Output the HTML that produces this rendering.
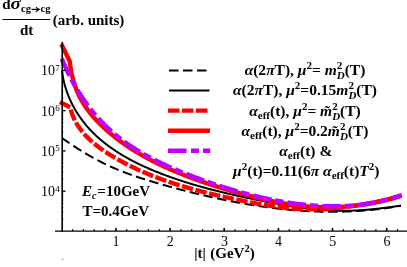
<!DOCTYPE html>
<html><head><meta charset="utf-8"><style>
html,body{margin:0;padding:0;background:#fff;}
svg{display:block;will-change:transform}
text{font-family:"Liberation Serif",serif;fill:#000}
.b{font-weight:bold}
.i{font-style:italic}
.tk{font-size:14px}
.lg{font-weight:bold;font-size:15.5px}
.s{font-size:11px}
</style></head><body>
<svg width="407" height="267" viewBox="0 0 407 267">
<rect width="407" height="267" fill="#fff"/>
<!-- curves -->
<g fill="none" stroke-linejoin="round">
<path d="M62.40,138.35 L62.88,138.69 L63.36,139.02 L63.84,139.35 L64.33,139.69 L64.81,140.02 L65.29,140.35 L65.78,140.68 L66.26,141.01 L66.75,141.34 L67.24,141.67 L67.72,142.00 L68.21,142.33 L68.70,142.66 L69.19,142.99 L69.68,143.32 L70.17,143.64 L70.66,143.97 L71.15,144.29 L71.64,144.62 L72.13,144.94 L72.62,145.27 L73.11,145.59 L73.61,145.91 L74.10,146.23 L74.60,146.56 L75.09,146.88 L75.59,147.20 L76.08,147.51 L76.58,147.83 L77.08,148.15 L77.58,148.47 L78.08,148.78 L78.57,149.10 L79.07,149.41 L79.57,149.73 L80.08,150.04 L80.58,150.35 L81.08,150.66 L81.58,150.97 L82.08,151.28 L82.59,151.59 L83.09,151.90 L83.60,152.20 L84.10,152.51 L84.61,152.81 L85.12,153.12 L85.62,153.42 L86.13,153.72 L86.64,154.02 L87.15,154.32 L87.66,154.62 L88.17,154.92 L88.68,155.22 L89.19,155.51 L89.70,155.81 L90.21,156.10 L90.72,156.39 L91.24,156.69 L91.75,156.98 L92.27,157.26 L92.78,157.55 L93.30,157.84 L93.81,158.13 L94.33,158.41 L94.85,158.69 L95.36,158.98 L95.88,159.26 L96.40,159.54 L96.92,159.81 L97.44,160.09 L97.96,160.37 L98.48,160.64 L99.00,160.91 L99.53,161.19 L100.05,161.46 L100.57,161.73 L101.10,161.99 L101.62,162.26 L102.15,162.53 L102.67,162.79 L103.20,163.05 L103.73,163.31 L104.25,163.57 L104.78,163.83 L105.31,164.09 L105.84,164.34 L106.37,164.60 L106.90,164.85 L107.43,165.10 L107.96,165.35 L108.49,165.59 L109.03,165.84 L109.56,166.09 L110.09,166.33 L110.63,166.57 L111.16,166.81 L111.70,167.05 L112.23,167.29 L112.77,167.53 L113.31,167.76 L113.84,168.00 L114.38,168.23 L114.92,168.46 L115.46,168.69 L116.00,168.92 L116.54,169.15 L117.08,169.37 L117.62,169.60 L118.16,169.82 L118.70,170.04 L119.24,170.26 L119.79,170.48 L120.33,170.70 L120.87,170.92 L121.42,171.14 L121.96,171.35 L122.51,171.57 L123.05,171.78 L123.60,171.99 L124.14,172.20 L124.69,172.41 L125.24,172.62 L125.78,172.83 L126.33,173.04 L126.88,173.24 L127.43,173.45 L127.98,173.65 L128.53,173.85 L129.08,174.05 L129.63,174.25 L130.18,174.45 L130.73,174.65 L131.28,174.85 L131.83,175.04 L132.39,175.24 L132.94,175.43 L133.49,175.63 L134.04,175.82 L134.60,176.01 L135.15,176.20 L135.71,176.39 L136.26,176.58 L136.82,176.77 L137.37,176.96 L137.93,177.14 L138.48,177.33 L139.04,177.52 L139.60,177.70 L140.15,177.88 L140.71,178.07 L141.27,178.25 L141.83,178.43 L142.38,178.61 L142.94,178.79 L143.50,178.97 L144.06,179.14 L144.62,179.32 L145.18,179.50 L145.74,179.67 L146.30,179.85 L146.86,180.02 L147.42,180.20 L147.98,180.37 L148.54,180.54 L149.10,180.72 L149.66,180.89 L150.23,181.06 L150.79,181.23 L151.35,181.40 L151.91,181.57 L152.48,181.74 L153.04,181.90 L153.60,182.07 L154.17,182.24 L154.73,182.40 L155.29,182.57 L155.86,182.74 L156.42,182.90 L156.99,183.07 L157.55,183.23 L158.12,183.39 L158.68,183.56 L159.25,183.72 L159.81,183.88 L160.38,184.04 L160.94,184.20 L161.51,184.37 L162.07,184.53 L162.64,184.69 L163.21,184.85 L163.77,185.01 L164.34,185.17 L164.91,185.33 L165.47,185.48 L166.04,185.64 L166.61,185.80 L167.17,185.96 L167.74,186.12 L168.31,186.27 L168.87,186.43 L169.44,186.59 L170.01,186.74 L170.58,186.90 L171.15,187.06 L171.71,187.21 L172.28,187.37 L172.85,187.52 L173.42,187.68 L173.99,187.83 L174.56,187.98 L175.13,188.14 L175.69,188.29 L176.26,188.44 L176.83,188.60 L177.40,188.75 L177.97,188.90 L178.54,189.05 L179.11,189.20 L179.68,189.36 L180.25,189.51 L180.82,189.66 L181.39,189.81 L181.96,189.96 L182.53,190.10 L183.10,190.25 L183.67,190.40 L184.24,190.55 L184.81,190.70 L185.39,190.84 L185.96,190.99 L186.53,191.14 L187.10,191.28 L187.67,191.43 L188.24,191.58 L188.81,191.72 L189.38,191.87 L189.96,192.01 L190.53,192.16 L191.10,192.30 L191.67,192.44 L192.25,192.59 L192.82,192.73 L193.39,192.87 L193.96,193.01 L194.54,193.15 L195.11,193.29 L195.68,193.43 L196.25,193.58 L196.83,193.72 L197.40,193.85 L197.97,193.99 L198.55,194.13 L199.12,194.27 L199.69,194.41 L200.27,194.55 L200.84,194.68 L201.42,194.82 L201.99,194.96 L202.56,195.09 L203.14,195.23 L203.71,195.36 L204.29,195.50 L204.86,195.63 L205.44,195.76 L206.01,195.90 L206.59,196.03 L207.16,196.16 L207.74,196.30 L208.31,196.43 L208.89,196.56 L209.46,196.69 L210.04,196.82 L210.61,196.95 L211.19,197.08 L211.76,197.21 L212.34,197.34 L212.92,197.46 L213.49,197.59 L214.07,197.72 L214.64,197.85 L215.22,197.97 L215.80,198.10 L216.37,198.22 L216.95,198.35 L217.53,198.47 L218.10,198.60 L218.68,198.72 L219.26,198.84 L219.83,198.97 L220.41,199.09 L220.99,199.21 L221.56,199.33 L222.14,199.45 L222.72,199.57 L223.30,199.69 L223.87,199.81 L224.45,199.93 L225.03,200.05 L225.61,200.17 L226.19,200.29 L226.76,200.40 L227.34,200.52 L227.92,200.63 L228.50,200.75 L229.08,200.87 L229.65,200.98 L230.23,201.09 L230.81,201.21 L231.39,201.32 L231.97,201.43 L232.55,201.54 L233.13,201.66 L233.71,201.77 L234.29,201.88 L234.86,201.99 L235.44,202.10 L236.02,202.21 L236.60,202.31 L237.18,202.42 L237.76,202.53 L238.34,202.64 L238.92,202.74 L239.50,202.85 L240.08,202.95 L240.66,203.06 L241.24,203.16 L241.82,203.27 L242.40,203.37 L242.98,203.47 L243.56,203.58 L244.14,203.68 L244.72,203.78 L245.30,203.88 L245.88,203.98 L246.46,204.08 L247.04,204.18 L247.62,204.27 L248.21,204.37 L248.79,204.47 L249.37,204.57 L249.95,204.66 L250.53,204.76 L251.11,204.85 L251.69,204.95 L252.27,205.04 L252.86,205.13 L253.44,205.23 L254.02,205.32 L254.60,205.41 L255.18,205.50 L255.76,205.59 L256.34,205.68 L256.93,205.77 L257.51,205.86 L258.09,205.95 L258.67,206.04 L259.25,206.12 L259.84,206.21 L260.42,206.29 L261.00,206.38 L261.58,206.46 L262.17,206.55 L262.75,206.63 L263.33,206.71 L263.91,206.80 L264.50,206.88 L265.08,206.96 L265.66,207.04 L266.24,207.12 L266.83,207.20 L267.41,207.28 L267.99,207.36 L268.58,207.43 L269.16,207.51 L269.74,207.59 L270.33,207.66 L270.91,207.74 L271.49,207.81 L272.08,207.88 L272.66,207.96 L273.24,208.03 L273.83,208.10 L274.41,208.17 L274.99,208.24 L275.58,208.31 L276.16,208.38 L276.74,208.45 L277.33,208.52 L277.91,208.59 L278.50,208.65 L279.08,208.72 L279.66,208.78 L280.25,208.85 L280.83,208.91 L281.42,208.98 L282.00,209.04 L282.58,209.10 L283.17,209.16 L283.75,209.22 L284.34,209.28 L284.92,209.34 L285.51,209.40 L286.09,209.46 L286.68,209.52 L287.26,209.57 L287.84,209.63 L288.43,209.68 L289.01,209.74 L289.60,209.79 L290.18,209.85 L290.77,209.90 L291.35,209.95 L291.94,210.00 L292.52,210.05 L293.11,210.10 L293.69,210.15 L294.28,210.20 L294.86,210.25 L295.45,210.30 L296.03,210.34 L296.62,210.39 L297.20,210.43 L297.79,210.48 L298.38,210.52 L298.96,210.56 L299.55,210.61 L300.13,210.65 L300.72,210.69 L301.30,210.73 L301.89,210.77 L302.47,210.81 L303.06,210.85 L303.64,210.88 L304.23,210.92 L304.82,210.95 L305.40,210.99 L305.99,211.02 L306.57,211.06 L307.16,211.09 L307.74,211.12 L308.33,211.15 L308.92,211.19 L309.50,211.22 L310.09,211.24 L310.67,211.27 L311.26,211.30 L311.85,211.33 L312.43,211.35 L313.02,211.38 L313.60,211.40 L314.19,211.43 L314.78,211.45 L315.36,211.47 L315.95,211.50 L316.54,211.52 L317.12,211.54 L317.71,211.56 L318.29,211.58 L318.88,211.59 L319.47,211.61 L320.05,211.63 L320.64,211.64 L321.23,211.66 L321.81,211.67 L322.40,211.68 L322.99,211.70 L323.57,211.71 L324.16,211.72 L324.75,211.73 L325.33,211.74 L325.92,211.75 L326.50,211.76 L327.09,211.76 L327.68,211.77 L328.26,211.77 L328.85,211.78 L329.44,211.78 L330.02,211.79 L330.61,211.79 L331.20,211.79 L331.78,211.79 L332.37,211.79 L332.96,211.79 L333.54,211.79 L334.13,211.78 L334.72,211.78 L335.30,211.78 L335.89,211.77 L336.48,211.77 L337.06,211.76 L337.65,211.75 L338.24,211.74 L338.83,211.73 L339.41,211.72 L340.00,211.71 L340.59,211.70 L341.17,211.69 L341.76,211.67 L342.35,211.66 L342.93,211.65 L343.52,211.63 L344.11,211.61 L344.69,211.60 L345.28,211.58 L345.87,211.56 L346.45,211.54 L347.04,211.52 L347.63,211.50 L348.21,211.47 L348.80,211.45 L349.39,211.42 L349.98,211.40 L350.56,211.37 L351.15,211.35 L351.74,211.32 L352.32,211.29 L352.91,211.26 L353.50,211.23 L354.08,211.20 L354.67,211.17 L355.26,211.13 L355.84,211.10 L356.43,211.06 L357.02,211.03 L357.60,210.99 L358.19,210.95 L358.78,210.92 L359.37,210.88 L359.95,210.84 L360.54,210.80 L361.13,210.75 L361.71,210.71 L362.30,210.67 L362.89,210.62 L363.47,210.58 L364.06,210.53 L364.65,210.48 L365.23,210.44 L365.82,210.39 L366.41,210.34 L366.99,210.28 L367.58,210.23 L368.17,210.18 L368.75,210.13 L369.34,210.07 L369.93,210.02 L370.51,209.96 L371.10,209.90 L371.69,209.84 L372.27,209.78 L372.86,209.72 L373.45,209.66 L374.03,209.60 L374.62,209.54 L375.21,209.47 L375.79,209.41 L376.38,209.34 L376.97,209.28 L377.55,209.21 L378.14,209.14 L378.72,209.07 L379.31,209.00 L379.90,208.93 L380.48,208.86 L381.07,208.78 L381.66,208.71 L382.24,208.63 L382.83,208.56 L383.41,208.48 L384.00,208.40 L384.59,208.32 L385.17,208.24 L385.76,208.16 L386.35,208.08 L386.93,208.00 L387.52,207.91 L388.10,207.83 L388.69,207.74 L389.28,207.65 L389.86,207.57 L390.45,207.48 L391.03,207.39 L391.62,207.30 L392.21,207.21 L392.79,207.11 L393.38,207.02 L393.96,206.92 L394.55,206.83 L395.13,206.73 L395.72,206.63 L396.31,206.53 L396.89,206.43 L397.48,206.33 L398.06,206.23 L398.65,206.13 L399.23,206.02 L399.82,205.92 L400.40,205.81 L400.99,205.71" stroke="#000" stroke-width="2" stroke-dasharray="9.5 4.5" stroke-dashoffset="0.8"/>
<path d="M62.00,70.54 L62.08,71.19 L62.15,71.85 L62.24,72.50 L62.32,73.15 L62.42,73.80 L62.51,74.46 L62.61,75.11 L62.72,75.76 L62.83,76.41 L62.95,77.06 L63.07,77.70 L63.19,78.35 L63.32,79.00 L63.46,79.64 L63.60,80.28 L63.74,80.93 L63.89,81.57 L64.04,82.21 L64.20,82.85 L64.36,83.49 L64.52,84.13 L64.69,84.76 L64.87,85.40 L65.05,86.03 L65.23,86.67 L65.42,87.30 L65.61,87.93 L65.81,88.56 L66.01,89.19 L66.21,89.81 L66.42,90.44 L66.63,91.06 L66.85,91.69 L67.07,92.31 L67.29,92.93 L67.52,93.55 L67.76,94.17 L68.00,94.78 L68.24,95.40 L68.48,96.01 L68.73,96.62 L68.99,97.23 L69.24,97.84 L69.50,98.45 L69.77,99.05 L70.04,99.65 L70.31,100.26 L70.59,100.86 L70.87,101.46 L71.15,102.05 L71.44,102.65 L71.73,103.24 L72.03,103.83 L72.33,104.42 L72.63,105.01 L72.94,105.60 L73.25,106.18 L73.56,106.76 L73.88,107.34 L74.20,107.92 L74.52,108.50 L74.85,109.07 L75.18,109.65 L75.52,110.22 L75.85,110.79 L76.20,111.35 L76.54,111.92 L76.89,112.48 L77.24,113.04 L77.60,113.60 L77.96,114.15 L78.32,114.71 L78.68,115.26 L79.05,115.81 L79.42,116.36 L79.80,116.90 L80.17,117.44 L80.56,117.98 L80.94,118.52 L81.33,119.06 L81.72,119.59 L82.11,120.12 L82.51,120.65 L82.91,121.18 L83.31,121.70 L83.71,122.22 L84.12,122.74 L84.53,123.25 L84.95,123.77 L85.37,124.28 L85.79,124.79 L86.21,125.29 L86.63,125.80 L87.06,126.30 L87.49,126.79 L87.93,127.29 L88.36,127.78 L88.80,128.27 L89.25,128.76 L89.69,129.24 L90.14,129.72 L90.59,130.20 L91.04,130.68 L91.50,131.15 L91.95,131.63 L92.41,132.10 L92.88,132.56 L93.34,133.03 L93.81,133.49 L94.28,133.95 L94.75,134.41 L95.23,134.86 L95.70,135.31 L96.18,135.76 L96.67,136.21 L97.15,136.65 L97.64,137.10 L98.13,137.53 L98.62,137.97 L99.11,138.41 L99.60,138.84 L100.10,139.27 L100.60,139.70 L101.10,140.12 L101.61,140.55 L102.11,140.97 L102.62,141.39 L103.13,141.80 L103.64,142.22 L104.16,142.63 L104.67,143.04 L105.19,143.45 L105.71,143.85 L106.23,144.25 L106.75,144.65 L107.28,145.05 L107.81,145.45 L108.33,145.84 L108.87,146.23 L109.40,146.62 L109.93,147.01 L110.47,147.39 L111.00,147.78 L111.54,148.16 L112.08,148.54 L112.63,148.91 L113.17,149.29 L113.71,149.66 L114.26,150.03 L114.81,150.40 L115.36,150.76 L115.91,151.12 L116.46,151.49 L117.02,151.85 L117.57,152.20 L118.13,152.56 L118.69,152.91 L119.25,153.26 L119.81,153.61 L120.37,153.96 L120.93,154.30 L121.50,154.65 L122.07,154.99 L122.63,155.33 L123.20,155.67 L123.77,156.00 L124.34,156.34 L124.91,156.67 L125.48,157.00 L126.06,157.32 L126.63,157.65 L127.21,157.97 L127.79,158.30 L128.36,158.62 L128.94,158.93 L129.52,159.25 L130.10,159.57 L130.68,159.88 L131.27,160.19 L131.85,160.50 L132.44,160.81 L133.02,161.11 L133.61,161.42 L134.19,161.72 L134.78,162.02 L135.37,162.32 L135.96,162.62 L136.55,162.91 L137.14,163.21 L137.74,163.50 L138.33,163.79 L138.93,164.08 L139.52,164.36 L140.12,164.65 L140.71,164.93 L141.31,165.22 L141.91,165.50 L142.51,165.78 L143.11,166.05 L143.71,166.33 L144.31,166.61 L144.91,166.88 L145.51,167.15 L146.12,167.42 L146.72,167.69 L147.32,167.96 L147.93,168.22 L148.54,168.49 L149.14,168.75 L149.75,169.01 L150.36,169.27 L150.96,169.53 L151.57,169.79 L152.18,170.05 L152.79,170.30 L153.40,170.55 L154.01,170.81 L154.63,171.06 L155.24,171.31 L155.85,171.56 L156.46,171.80 L157.08,172.05 L157.69,172.29 L158.31,172.54 L158.92,172.78 L159.54,173.02 L160.15,173.26 L160.77,173.50 L161.39,173.74 L162.00,173.97 L162.62,174.21 L163.24,174.44 L163.86,174.67 L164.47,174.91 L165.09,175.14 L165.71,175.37 L166.33,175.60 L166.95,175.82 L167.57,176.05 L168.19,176.28 L168.81,176.50 L169.43,176.72 L170.06,176.95 L170.68,177.17 L171.30,177.39 L171.92,177.61 L172.54,177.82 L173.17,178.04 L173.79,178.26 L174.41,178.47 L175.04,178.69 L175.66,178.90 L176.29,179.11 L176.91,179.32 L177.54,179.53 L178.16,179.74 L178.79,179.95 L179.41,180.16 L180.04,180.36 L180.67,180.57 L181.29,180.77 L181.92,180.98 L182.55,181.18 L183.18,181.38 L183.80,181.58 L184.43,181.78 L185.06,181.98 L185.69,182.18 L186.32,182.38 L186.95,182.57 L187.58,182.77 L188.21,182.96 L188.84,183.16 L189.47,183.35 L190.10,183.54 L190.73,183.73 L191.36,183.92 L191.99,184.11 L192.62,184.30 L193.26,184.49 L193.89,184.67 L194.52,184.86 L195.15,185.04 L195.79,185.23 L196.42,185.41 L197.05,185.60 L197.69,185.78 L198.32,185.96 L198.96,186.14 L199.59,186.32 L200.22,186.50 L200.86,186.68 L201.49,186.85 L202.13,187.03 L202.77,187.20 L203.40,187.38 L204.04,187.55 L204.67,187.73 L205.31,187.90 L205.95,188.07 L206.58,188.24 L207.22,188.41 L207.86,188.58 L208.50,188.75 L209.13,188.92 L209.77,189.09 L210.41,189.26 L211.05,189.42 L211.69,189.59 L212.32,189.75 L212.96,189.92 L213.60,190.08 L214.24,190.24 L214.88,190.41 L215.52,190.57 L216.16,190.73 L216.80,190.89 L217.44,191.05 L218.08,191.21 L218.72,191.37 L219.36,191.53 L220.00,191.68 L220.65,191.84 L221.29,192.00 L221.93,192.15 L222.57,192.31 L223.21,192.46 L223.85,192.61 L224.50,192.77 L225.14,192.92 L225.78,193.07 L226.42,193.22 L227.07,193.38 L227.71,193.53 L228.35,193.68 L229.00,193.83 L229.64,193.97 L230.28,194.12 L230.93,194.27 L231.57,194.42 L232.21,194.57 L232.86,194.71 L233.50,194.86 L234.15,195.00 L234.79,195.15 L235.44,195.29 L236.08,195.44 L236.73,195.58 L237.37,195.72 L238.02,195.87 L238.66,196.01 L239.31,196.15 L239.95,196.29 L240.60,196.43 L241.24,196.57 L241.89,196.71 L242.54,196.85 L243.18,196.99 L243.83,197.13 L244.48,197.27 L245.12,197.41 L245.77,197.55 L246.42,197.68 L247.06,197.82 L247.71,197.96 L248.36,198.09 L249.00,198.23 L249.65,198.36 L250.30,198.50 L250.95,198.63 L251.59,198.77 L252.24,198.90 L252.89,199.04 L253.54,199.17 L254.18,199.30 L254.83,199.44 L255.48,199.57 L256.13,199.70 L256.78,199.83 L257.42,199.96 L258.07,200.10 L258.72,200.23 L259.37,200.36 L260.02,200.49 L260.67,200.62 L261.31,200.75 L261.96,200.88 L262.61,201.01 L263.26,201.14 L263.91,201.27 L264.56,201.39 L265.21,201.52 L265.86,201.65 L266.51,201.78 L267.15,201.90 L267.80,202.03 L268.45,202.16 L269.10,202.28 L269.75,202.41 L270.40,202.53 L271.05,202.66 L271.70,202.78 L272.35,202.91 L273.00,203.03 L273.65,203.15 L274.30,203.27 L274.95,203.39 L275.60,203.52 L276.25,203.64 L276.90,203.76 L277.55,203.87 L278.20,203.99 L278.85,204.11 L279.50,204.23 L280.15,204.35 L280.80,204.46 L281.45,204.58 L282.11,204.69 L282.76,204.81 L283.41,204.92 L284.06,205.03 L284.71,205.14 L285.36,205.26 L286.01,205.37 L286.66,205.48 L287.31,205.59 L287.97,205.69 L288.62,205.80 L289.27,205.91 L289.92,206.01 L290.57,206.12 L291.23,206.22 L291.88,206.33 L292.53,206.43 L293.18,206.53 L293.83,206.63 L294.49,206.73 L295.14,206.83 L295.79,206.93 L296.44,207.03 L297.10,207.12 L297.75,207.22 L298.40,207.31 L299.06,207.41 L299.71,207.50 L300.36,207.59 L301.01,207.68 L301.67,207.77 L302.32,207.86 L302.97,207.94 L303.63,208.03 L304.28,208.12 L304.94,208.20 L305.59,208.28 L306.24,208.37 L306.90,208.45 L307.55,208.53 L308.21,208.60 L308.86,208.68 L309.51,208.76 L310.17,208.83 L310.82,208.91 L311.48,208.98 L312.13,209.05 L312.79,209.12 L313.44,209.19 L314.10,209.26 L314.75,209.32 L315.41,209.39 L316.06,209.45 L316.72,209.52 L317.37,209.58 L318.03,209.64 L318.69,209.70 L319.34,209.75 L320.00,209.81 L320.65,209.86 L321.31,209.92 L321.97,209.97 L322.62,210.02 L323.28,210.07 L323.94,210.11 L324.59,210.16 L325.25,210.21 L325.91,210.25 L326.56,210.29 L327.22,210.33 L327.88,210.37 L328.53,210.41 L329.19,210.44 L329.85,210.48 L330.51,210.51 L331.16,210.54 L331.82,210.57 L332.48,210.60 L333.14,210.62 L333.79,210.65 L334.45,210.67 L335.11,210.69 L335.77,210.71 L336.43,210.73 L337.09,210.75 L337.75,210.76 L338.40,210.77 L339.06,210.79 L339.72,210.79 L340.38,210.80 L341.04,210.81 L341.70,210.81 L342.36,210.82 L343.02,210.82 L343.68,210.82 L344.34,210.81 L345.00,210.81 L345.66,210.80 L346.32,210.79 L346.98,210.78 L347.64,210.77 L348.30,210.76 L348.96,210.74 L349.62,210.73 L350.28,210.71 L350.94,210.69 L351.60,210.67 L352.26,210.64 L352.92,210.62 L353.58,210.59 L354.25,210.56 L354.91,210.53 L355.57,210.50 L356.23,210.47 L356.89,210.43 L357.55,210.40 L358.21,210.36 L358.87,210.32 L359.53,210.28 L360.19,210.24 L360.85,210.19 L361.52,210.15 L362.18,210.10 L362.84,210.06 L363.50,210.01 L364.16,209.96 L364.82,209.91 L365.48,209.85 L366.14,209.80 L366.80,209.74 L367.46,209.69 L368.12,209.63 L368.78,209.57 L369.44,209.51 L370.10,209.45 L370.76,209.39 L371.42,209.32 L372.08,209.26 L372.74,209.19 L373.40,209.13 L374.06,209.06 L374.72,208.99 L375.38,208.92 L376.04,208.85 L376.70,208.78 L377.36,208.71 L378.01,208.63 L378.67,208.56 L379.33,208.48 L379.99,208.41 L380.65,208.33 L381.30,208.25 L381.96,208.17 L382.62,208.09 L383.27,208.01 L383.93,207.93 L384.59,207.85 L385.24,207.77 L385.90,207.68 L386.55,207.60 L387.21,207.51 L387.87,207.43 L388.52,207.34 L389.17,207.26 L389.83,207.17 L390.48,207.08 L391.14,206.99 L391.79,206.90 L392.44,206.81 L393.10,206.72 L393.75,206.63 L394.40,206.54 L395.05,206.45 L395.70,206.36 L396.36,206.27 L397.01,206.17 L397.66,206.08 L398.31,205.99 L398.96,205.89 L399.61,205.80 L400.26,205.70 L400.91,205.61" stroke="#000" stroke-width="2"/>
<path d="M59.90,102.00 L70.22,107.24 L70.36,107.86 L70.51,108.48 L70.66,109.10 L70.82,109.71 L70.98,110.32 L71.15,110.93 L71.33,111.53 L71.51,112.12 L71.70,112.72 L71.90,113.31 L72.10,113.89 L72.31,114.47 L72.53,115.05 L72.75,115.62 L72.98,116.19 L73.21,116.76 L73.45,117.32 L73.70,117.87 L73.95,118.43 L74.20,118.98 L74.46,119.53 L74.73,120.07 L75.01,120.61 L75.28,121.15 L75.57,121.68 L75.86,122.21 L76.15,122.73 L76.45,123.25 L76.75,123.77 L77.06,124.29 L77.38,124.80 L77.70,125.31 L78.02,125.81 L78.35,126.32 L78.68,126.81 L79.02,127.31 L79.36,127.80 L79.71,128.29 L80.06,128.78 L80.42,129.26 L80.78,129.74 L81.14,130.21 L81.51,130.69 L81.88,131.16 L82.26,131.62 L82.64,132.09 L83.02,132.55 L83.41,133.01 L83.80,133.46 L84.20,133.91 L84.60,134.36 L85.00,134.81 L85.41,135.25 L85.82,135.70 L86.23,136.13 L86.65,136.57 L87.07,137.00 L87.49,137.43 L87.92,137.86 L88.35,138.28 L88.78,138.70 L89.22,139.12 L89.66,139.54 L90.10,139.95 L90.55,140.36 L91.00,140.77 L91.45,141.18 L91.90,141.58 L92.36,141.98 L92.82,142.38 L93.29,142.78 L93.75,143.17 L94.22,143.56 L94.69,143.95 L95.16,144.34 L95.64,144.72 L96.12,145.11 L96.60,145.49 L97.08,145.86 L97.57,146.24 L98.06,146.61 L98.55,146.98 L99.04,147.35 L99.53,147.72 L100.03,148.08 L100.53,148.44 L101.03,148.80 L101.53,149.16 L102.03,149.52 L102.54,149.87 L103.05,150.22 L103.56,150.57 L104.07,150.92 L104.58,151.27 L105.09,151.61 L105.61,151.95 L106.12,152.29 L106.64,152.63 L107.16,152.97 L107.68,153.30 L108.20,153.64 L108.73,153.97 L109.25,154.30 L109.78,154.62 L110.30,154.95 L110.83,155.27 L111.36,155.60 L111.89,155.92 L112.42,156.24 L112.95,156.56 L113.48,156.87 L114.01,157.19 L114.55,157.50 L115.08,157.81 L115.61,158.12 L116.15,158.43 L116.68,158.74 L117.22,159.04 L117.76,159.35 L118.29,159.65 L118.83,159.95 L119.37,160.25 L119.91,160.55 L120.45,160.85 L120.98,161.14 L121.52,161.44 L122.07,161.73 L122.61,162.02 L123.15,162.31 L123.69,162.60 L124.23,162.89 L124.78,163.18 L125.32,163.46 L125.86,163.74 L126.41,164.03 L126.95,164.31 L127.50,164.59 L128.04,164.86 L128.59,165.14 L129.14,165.41 L129.69,165.69 L130.23,165.96 L130.78,166.23 L131.33,166.50 L131.88,166.77 L132.43,167.04 L132.98,167.30 L133.53,167.57 L134.08,167.83 L134.64,168.09 L135.19,168.35 L135.74,168.61 L136.29,168.87 L136.85,169.13 L137.40,169.39 L137.96,169.64 L138.51,169.89 L139.07,170.15 L139.62,170.40 L140.18,170.65 L140.74,170.89 L141.30,171.14 L141.85,171.39 L142.41,171.63 L142.97,171.88 L143.53,172.12 L144.09,172.36 L144.65,172.60 L145.21,172.84 L145.77,173.08 L146.33,173.31 L146.89,173.55 L147.46,173.78 L148.02,174.02 L148.58,174.25 L149.14,174.48 L149.71,174.71 L150.27,174.94 L150.84,175.16 L151.40,175.39 L151.97,175.62 L152.53,175.84 L153.10,176.06 L153.67,176.29 L154.23,176.51 L154.80,176.73 L155.37,176.95 L155.94,177.16 L156.50,177.38 L157.07,177.60 L157.64,177.81 L158.21,178.02 L158.78,178.24 L159.35,178.45 L159.92,178.66 L160.50,178.87 L161.07,179.08 L161.64,179.28 L162.21,179.49 L162.78,179.70 L163.36,179.90 L163.93,180.10 L164.50,180.31 L165.08,180.51 L165.65,180.71 L166.23,180.91 L166.80,181.11 L167.38,181.31 L167.95,181.50 L168.53,181.70 L169.11,181.89 L169.68,182.09 L170.26,182.28 L170.84,182.47 L171.42,182.67 L171.99,182.86 L172.57,183.05 L173.15,183.23 L173.73,183.42 L174.31,183.61 L174.89,183.80 L175.47,183.98 L176.05,184.16 L176.63,184.35 L177.21,184.53 L177.79,184.71 L178.37,184.89 L178.96,185.07 L179.54,185.25 L180.12,185.43 L180.70,185.61 L181.29,185.79 L181.87,185.96 L182.45,186.14 L183.04,186.31 L183.62,186.49 L184.20,186.66 L184.79,186.83 L185.37,187.00 L185.96,187.18 L186.55,187.35 L187.13,187.51 L187.72,187.68 L188.30,187.85 L188.89,188.02 L189.48,188.18 L190.06,188.35 L190.65,188.51 L191.24,188.68 L191.83,188.84 L192.41,189.01 L193.00,189.17 L193.59,189.33 L194.18,189.49 L194.77,189.65 L195.36,189.81 L195.95,189.97 L196.54,190.13 L197.13,190.28 L197.72,190.44 L198.31,190.60 L198.90,190.75 L199.49,190.91 L200.08,191.06 L200.67,191.22 L201.26,191.37 L201.86,191.52 L202.45,191.67 L203.04,191.82 L203.63,191.98 L204.22,192.13 L204.82,192.28 L205.41,192.42 L206.00,192.57 L206.60,192.72 L207.19,192.87 L207.78,193.02 L208.38,193.16 L208.97,193.31 L209.57,193.45 L210.16,193.60 L210.76,193.74 L211.35,193.88 L211.95,194.03 L212.54,194.17 L213.14,194.31 L213.73,194.45 L214.33,194.60 L214.92,194.74 L215.52,194.88 L216.11,195.02 L216.71,195.16 L217.31,195.29 L217.90,195.43 L218.50,195.57 L219.10,195.71 L219.69,195.84 L220.29,195.98 L220.89,196.12 L221.49,196.25 L222.08,196.39 L222.68,196.52 L223.28,196.66 L223.88,196.79 L224.48,196.92 L225.07,197.06 L225.67,197.19 L226.27,197.32 L226.87,197.45 L227.47,197.58 L228.07,197.72 L228.66,197.85 L229.26,197.98 L229.86,198.11 L230.46,198.24 L231.06,198.36 L231.66,198.49 L232.26,198.62 L232.86,198.75 L233.46,198.88 L234.06,199.00 L234.66,199.13 L235.26,199.26 L235.86,199.38 L236.46,199.51 L237.06,199.64 L237.66,199.76 L238.26,199.89 L238.86,200.01 L239.46,200.13 L240.06,200.26 L240.66,200.38 L241.26,200.51 L241.86,200.63 L242.46,200.75 L243.06,200.87 L243.66,201.00 L244.26,201.12 L244.86,201.24 L245.46,201.36 L246.06,201.48 L246.66,201.60 L247.26,201.72 L247.86,201.84 L248.47,201.96 L249.07,202.08 L249.67,202.19 L250.27,202.31 L250.87,202.43 L251.47,202.55 L252.07,202.66 L252.67,202.78 L253.28,202.89 L253.88,203.00 L254.48,203.12 L255.08,203.23 L255.68,203.34 L256.28,203.45 L256.89,203.57 L257.49,203.68 L258.09,203.79 L258.69,203.89 L259.29,204.00 L259.90,204.11 L260.50,204.22 L261.10,204.32 L261.70,204.43 L262.31,204.53 L262.91,204.64 L263.51,204.74 L264.11,204.84 L264.72,204.94 L265.32,205.05 L265.92,205.15 L266.52,205.24 L267.13,205.34 L267.73,205.44 L268.33,205.54 L268.94,205.63 L269.54,205.73 L270.14,205.82 L270.75,205.91 L271.35,206.01 L271.95,206.10 L272.56,206.19 L273.16,206.28 L273.76,206.36 L274.37,206.45 L274.97,206.54 L275.57,206.62 L276.18,206.71 L276.78,206.79 L277.39,206.87 L277.99,206.95 L278.60,207.03 L279.20,207.11 L279.80,207.19 L280.41,207.26 L281.01,207.34 L281.62,207.41 L282.22,207.49 L282.83,207.56 L283.43,207.63 L284.04,207.70 L284.64,207.77 L285.25,207.83 L285.85,207.90 L286.46,207.96 L287.06,208.03 L287.67,208.09 L288.27,208.15 L288.88,208.21 L289.48,208.27 L290.09,208.32 L290.70,208.38 L291.30,208.43 L291.91,208.49 L292.51,208.54 L293.12,208.59 L293.73,208.64 L294.33,208.68 L294.94,208.73 L295.55,208.77 L296.15,208.82 L296.76,208.86 L297.37,208.90 L297.97,208.94 L298.58,208.97 L299.19,209.01 L299.79,209.04 L300.40,209.07 L301.01,209.10 L301.61,209.13 L302.22,209.16 L302.83,209.19 L303.44,209.21 L304.04,209.24 L304.65,209.26 L305.26,209.28 L305.87,209.29 L306.48,209.31 L307.08,209.32 L307.69,209.34 L308.30,209.35 L308.91,209.36 L309.52,209.37 L310.13,209.37 L310.73,209.38 L311.34,209.38 L311.95,209.38 L312.56,209.38 L313.17,209.38 L313.78,209.37 L314.39,209.37 L315.00,209.36 L315.61,209.35 L316.22,209.34 L316.82,209.32 L317.43,209.31 L318.04,209.29 L318.65,209.27 L319.26,209.25 L319.87,209.23 L320.48,209.20 L321.09,209.18 L321.70,209.15 L322.31,209.12 L322.92,209.09 L323.53,209.06 L324.14,209.03 L324.75,208.99 L325.36,208.95 L325.97,208.92 L326.58,208.88 L327.19,208.83 L327.80,208.79 L328.41,208.75 L329.02,208.70 L329.63,208.65 L330.25,208.61 L330.86,208.56 L331.47,208.50 L332.08,208.45 L332.69,208.40 L333.30,208.34 L333.91,208.29 L334.52,208.23 L335.13,208.17 L335.74,208.11 L336.35,208.05 L336.96,207.98 L337.57,207.92 L338.17,207.85 L338.78,207.79 L339.39,207.72 L340.00,207.65 L340.61,207.58 L341.22,207.51 L341.83,207.44 L342.44,207.36 L343.05,207.29 L343.66,207.21 L344.27,207.14 L344.88,207.06 L345.48,206.98 L346.09,206.90 L346.70,206.82 L347.31,206.74 L347.92,206.66 L348.53,206.58 L349.13,206.49 L349.74,206.41 L350.35,206.32 L350.96,206.23 L351.56,206.15 L352.17,206.06 L352.78,205.97 L353.39,205.88 L353.99,205.79 L354.60,205.70 L355.20,205.60 L355.81,205.51 L356.42,205.42 L357.02,205.32 L357.63,205.23 L358.23,205.13 L358.84,205.04 L359.44,204.94 L360.05,204.84 L360.65,204.74 L361.26,204.65 L361.86,204.55 L362.47,204.45 L363.07,204.35 L363.67,204.25 L364.28,204.14 L364.88,204.04 L365.48,203.94 L366.08,203.83 L366.69,203.73 L367.29,203.62 L367.89,203.52 L368.49,203.41 L369.09,203.30 L369.69,203.19 L370.29,203.08 L370.90,202.97 L371.50,202.86 L372.10,202.75 L372.70,202.64 L373.29,202.52 L373.89,202.41 L374.49,202.29 L375.09,202.17 L375.69,202.06 L376.29,201.94 L376.89,201.82 L377.48,201.69 L378.08,201.57 L378.68,201.45 L379.27,201.32 L379.87,201.20 L380.47,201.07 L381.06,200.94 L381.66,200.82 L382.25,200.68 L382.85,200.55 L383.44,200.42 L384.03,200.29 L384.63,200.15 L385.22,200.01 L385.81,199.88 L386.41,199.74 L387.00,199.60 L387.59,199.46 L388.18,199.31 L388.77,199.17 L389.37,199.02 L389.96,198.87 L390.55,198.73 L391.14,198.58 L391.73,198.42 L392.32,198.27 L392.90,198.12 L393.49,197.96 L394.08,197.80 L394.67,197.64 L395.26,197.48 L395.84,197.32 L396.43,197.16 L397.02,196.99 L397.60,196.82 L398.19,196.65 L398.77,196.48 L399.36,196.31 L399.94,196.14 L400.52,195.96 L401.11,195.79 L401.69,195.61" stroke="#f00" stroke-width="4.4" stroke-dasharray="11.5 2.5"/>
<path d="M61.30,44.00 L69.70,61.17 L69.77,61.82 L69.85,62.48 L69.92,63.14 L70.00,63.79 L70.09,64.45 L70.18,65.11 L70.27,65.76 L70.36,66.42 L70.46,67.07 L70.56,67.73 L70.67,68.38 L70.78,69.04 L70.89,69.69 L71.01,70.35 L71.13,71.00 L71.25,71.65 L71.38,72.31 L71.51,72.96 L71.64,73.61 L71.78,74.26 L71.93,74.91 L72.07,75.55 L72.22,76.20 L72.38,76.85 L72.54,77.49 L72.70,78.13 L72.86,78.78 L73.03,79.42 L73.21,80.06 L73.39,80.70 L73.57,81.33 L73.76,81.97 L73.95,82.60 L74.14,83.23 L74.34,83.86 L74.54,84.49 L74.75,85.12 L74.96,85.75 L75.18,86.37 L75.40,86.99 L75.62,87.61 L75.85,88.23 L76.08,88.85 L76.32,89.46 L76.56,90.07 L76.81,90.68 L77.06,91.29 L77.32,91.89 L77.58,92.49 L77.84,93.09 L78.11,93.69 L78.38,94.29 L78.66,94.88 L78.94,95.47 L79.23,96.06 L79.52,96.64 L79.82,97.22 L80.12,97.80 L80.42,98.38 L80.73,98.95 L81.05,99.52 L81.36,100.09 L81.69,100.66 L82.01,101.22 L82.34,101.78 L82.68,102.34 L83.02,102.90 L83.36,103.45 L83.71,104.00 L84.06,104.55 L84.41,105.10 L84.77,105.64 L85.13,106.19 L85.49,106.73 L85.86,107.26 L86.24,107.80 L86.61,108.33 L86.99,108.86 L87.37,109.39 L87.76,109.91 L88.15,110.43 L88.54,110.95 L88.94,111.47 L89.34,111.99 L89.74,112.50 L90.15,113.01 L90.56,113.52 L90.97,114.03 L91.39,114.53 L91.80,115.04 L92.22,115.54 L92.65,116.03 L93.07,116.53 L93.50,117.02 L93.94,117.51 L94.37,118.00 L94.81,118.49 L95.25,118.98 L95.69,119.46 L96.14,119.94 L96.58,120.42 L97.03,120.89 L97.48,121.37 L97.94,121.84 L98.40,122.31 L98.85,122.78 L99.32,123.25 L99.78,123.71 L100.24,124.17 L100.71,124.63 L101.18,125.09 L101.65,125.55 L102.12,126.00 L102.60,126.45 L103.07,126.90 L103.55,127.35 L104.03,127.80 L104.51,128.24 L105.00,128.68 L105.48,129.13 L105.97,129.56 L106.46,130.00 L106.95,130.44 L107.44,130.87 L107.93,131.30 L108.42,131.73 L108.92,132.16 L109.42,132.58 L109.91,133.01 L110.41,133.43 L110.92,133.85 L111.42,134.27 L111.92,134.69 L112.43,135.10 L112.94,135.51 L113.45,135.92 L113.96,136.33 L114.47,136.74 L114.98,137.15 L115.49,137.55 L116.01,137.96 L116.53,138.36 L117.05,138.75 L117.57,139.15 L118.09,139.55 L118.61,139.94 L119.13,140.33 L119.66,140.72 L120.19,141.11 L120.71,141.50 L121.24,141.89 L121.77,142.27 L122.30,142.65 L122.84,143.03 L123.37,143.41 L123.91,143.79 L124.44,144.16 L124.98,144.54 L125.52,144.91 L126.06,145.28 L126.60,145.65 L127.14,146.01 L127.69,146.38 L128.23,146.74 L128.78,147.11 L129.33,147.47 L129.88,147.83 L130.43,148.18 L130.98,148.54 L131.53,148.89 L132.08,149.25 L132.64,149.60 L133.19,149.95 L133.75,150.30 L134.30,150.64 L134.86,150.99 L135.42,151.33 L135.98,151.67 L136.54,152.02 L137.11,152.35 L137.67,152.69 L138.23,153.03 L138.80,153.36 L139.37,153.70 L139.93,154.03 L140.50,154.36 L141.07,154.69 L141.64,155.02 L142.21,155.34 L142.79,155.67 L143.36,155.99 L143.93,156.31 L144.51,156.63 L145.08,156.95 L145.66,157.27 L146.24,157.58 L146.82,157.90 L147.40,158.21 L147.98,158.52 L148.56,158.83 L149.14,159.14 L149.72,159.45 L150.30,159.76 L150.89,160.06 L151.47,160.37 L152.06,160.67 L152.65,160.97 L153.23,161.27 L153.82,161.57 L154.41,161.87 L155.00,162.16 L155.59,162.46 L156.18,162.75 L156.77,163.04 L157.36,163.33 L157.96,163.62 L158.55,163.91 L159.15,164.20 L159.74,164.49 L160.34,164.77 L160.93,165.05 L161.53,165.34 L162.13,165.62 L162.73,165.90 L163.32,166.17 L163.92,166.45 L164.52,166.73 L165.12,167.00 L165.73,167.28 L166.33,167.55 L166.93,167.82 L167.53,168.09 L168.14,168.36 L168.74,168.63 L169.34,168.90 L169.95,169.16 L170.55,169.43 L171.16,169.69 L171.77,169.95 L172.37,170.21 L172.98,170.47 L173.59,170.73 L174.20,170.99 L174.80,171.25 L175.41,171.50 L176.02,171.76 L176.63,172.01 L177.24,172.27 L177.85,172.52 L178.46,172.77 L179.07,173.02 L179.69,173.27 L180.30,173.51 L180.91,173.76 L181.52,174.01 L182.14,174.25 L182.75,174.49 L183.36,174.74 L183.98,174.98 L184.59,175.22 L185.20,175.46 L185.82,175.70 L186.43,175.93 L187.05,176.17 L187.66,176.41 L188.28,176.64 L188.89,176.88 L189.51,177.11 L190.13,177.34 L190.74,177.57 L191.36,177.80 L191.98,178.03 L192.59,178.26 L193.21,178.49 L193.83,178.72 L194.44,178.94 L195.06,179.17 L195.68,179.39 L196.30,179.61 L196.91,179.84 L197.53,180.06 L198.15,180.28 L198.77,180.50 L199.38,180.72 L200.00,180.94 L200.62,181.15 L201.24,181.37 L201.86,181.59 L202.48,181.80 L203.10,182.02 L203.71,182.23 L204.33,182.44 L204.95,182.65 L205.57,182.87 L206.19,183.08 L206.81,183.29 L207.43,183.49 L208.05,183.70 L208.67,183.91 L209.29,184.12 L209.91,184.32 L210.53,184.53 L211.16,184.73 L211.78,184.93 L212.40,185.14 L213.02,185.34 L213.64,185.54 L214.26,185.74 L214.89,185.94 L215.51,186.14 L216.13,186.33 L216.75,186.53 L217.38,186.73 L218.00,186.92 L218.62,187.12 L219.25,187.31 L219.87,187.51 L220.49,187.70 L221.12,187.89 L221.74,188.09 L222.37,188.28 L222.99,188.47 L223.62,188.66 L224.24,188.84 L224.87,189.03 L225.49,189.22 L226.12,189.41 L226.75,189.59 L227.37,189.78 L228.00,189.96 L228.63,190.15 L229.25,190.33 L229.88,190.51 L230.51,190.70 L231.14,190.88 L231.76,191.06 L232.39,191.24 L233.02,191.42 L233.65,191.60 L234.28,191.78 L234.91,191.95 L235.54,192.13 L236.17,192.31 L236.80,192.48 L237.43,192.66 L238.06,192.83 L238.69,193.01 L239.32,193.18 L239.96,193.36 L240.59,193.53 L241.22,193.70 L241.85,193.87 L242.49,194.04 L243.12,194.21 L243.75,194.38 L244.39,194.55 L245.02,194.72 L245.66,194.89 L246.29,195.05 L246.93,195.22 L247.56,195.39 L248.20,195.55 L248.84,195.72 L249.47,195.88 L250.11,196.04 L250.75,196.21 L251.38,196.37 L252.02,196.53 L252.66,196.69 L253.30,196.85 L253.94,197.01 L254.57,197.17 L255.21,197.33 L255.85,197.48 L256.49,197.64 L257.13,197.79 L257.77,197.95 L258.41,198.10 L259.05,198.25 L259.69,198.41 L260.34,198.56 L260.98,198.71 L261.62,198.86 L262.26,199.01 L262.90,199.15 L263.55,199.30 L264.19,199.45 L264.83,199.59 L265.48,199.73 L266.12,199.88 L266.76,200.02 L267.41,200.16 L268.05,200.30 L268.70,200.44 L269.34,200.58 L269.98,200.71 L270.63,200.85 L271.28,200.98 L271.92,201.12 L272.57,201.25 L273.21,201.38 L273.86,201.51 L274.51,201.64 L275.15,201.77 L275.80,201.90 L276.45,202.02 L277.09,202.15 L277.74,202.27 L278.39,202.39 L279.04,202.51 L279.68,202.63 L280.33,202.75 L280.98,202.87 L281.63,202.99 L282.28,203.10 L282.93,203.21 L283.58,203.33 L284.23,203.44 L284.88,203.55 L285.53,203.66 L286.18,203.76 L286.83,203.87 L287.48,203.97 L288.13,204.08 L288.78,204.18 L289.43,204.28 L290.08,204.38 L290.73,204.47 L291.38,204.57 L292.03,204.66 L292.69,204.76 L293.34,204.85 L293.99,204.94 L294.64,205.03 L295.29,205.11 L295.95,205.20 L296.60,205.28 L297.25,205.36 L297.90,205.45 L298.56,205.52 L299.21,205.60 L299.86,205.68 L300.52,205.75 L301.17,205.83 L301.82,205.90 L302.48,205.97 L303.13,206.03 L303.78,206.10 L304.44,206.17 L305.09,206.23 L305.75,206.29 L306.40,206.35 L307.06,206.41 L307.71,206.46 L308.36,206.52 L309.02,206.57 L309.67,206.62 L310.33,206.67 L310.98,206.72 L311.64,206.76 L312.29,206.81 L312.95,206.85 L313.61,206.89 L314.26,206.93 L314.92,206.96 L315.57,207.00 L316.23,207.03 L316.88,207.06 L317.54,207.09 L318.20,207.11 L318.85,207.14 L319.51,207.16 L320.16,207.18 L320.82,207.20 L321.48,207.22 L322.13,207.24 L322.79,207.25 L323.44,207.26 L324.10,207.27 L324.76,207.28 L325.41,207.29 L326.07,207.29 L326.73,207.29 L327.38,207.29 L328.04,207.29 L328.69,207.29 L329.35,207.28 L330.01,207.28 L330.66,207.27 L331.32,207.26 L331.98,207.25 L332.63,207.23 L333.29,207.22 L333.94,207.20 L334.60,207.18 L335.26,207.16 L335.91,207.13 L336.57,207.11 L337.22,207.08 L337.88,207.05 L338.53,207.02 L339.19,206.99 L339.84,206.96 L340.50,206.92 L341.16,206.88 L341.81,206.84 L342.47,206.80 L343.12,206.76 L343.78,206.71 L344.43,206.67 L345.08,206.62 L345.74,206.57 L346.39,206.52 L347.05,206.46 L347.70,206.41 L348.36,206.35 L349.01,206.29 L349.66,206.23 L350.32,206.16 L350.97,206.10 L351.62,206.03 L352.28,205.96 L352.93,205.89 L353.58,205.82 L354.23,205.75 L354.89,205.67 L355.54,205.59 L356.19,205.51 L356.84,205.43 L357.49,205.35 L358.14,205.27 L358.80,205.18 L359.45,205.09 L360.10,205.00 L360.75,204.91 L361.40,204.82 L362.05,204.72 L362.70,204.62 L363.35,204.53 L364.00,204.43 L364.64,204.32 L365.29,204.22 L365.94,204.11 L366.59,204.01 L367.24,203.90 L367.88,203.79 L368.53,203.67 L369.18,203.56 L369.83,203.44 L370.47,203.32 L371.12,203.20 L371.76,203.08 L372.41,202.96 L373.06,202.84 L373.70,202.71 L374.34,202.58 L374.99,202.45 L375.63,202.32 L376.28,202.18 L376.92,202.05 L377.56,201.91 L378.21,201.77 L378.85,201.63 L379.49,201.49 L380.13,201.35 L380.77,201.20 L381.41,201.05 L382.05,200.90 L382.69,200.75 L383.33,200.60 L383.97,200.45 L384.61,200.29 L385.25,200.13 L385.89,199.97 L386.52,199.81 L387.16,199.65 L387.80,199.49 L388.44,199.32 L389.07,199.15 L389.71,198.98 L390.34,198.81 L390.98,198.64 L391.61,198.46 L392.25,198.29 L392.88,198.11 L393.51,197.93 L394.14,197.75 L394.78,197.56 L395.41,197.38 L396.04,197.19 L396.67,197.01 L397.30,196.82 L397.93,196.62 L398.56,196.43 L399.19,196.24 L399.81,196.04 L400.44,195.84 L401.07,195.64 L401.70,195.44" stroke="#f00" stroke-width="4.4"/>
<path d="M61.75,58.71 L62.00,59.32 L62.26,59.93 L62.52,60.54 L62.78,61.15 L63.04,61.75 L63.30,62.36 L63.57,62.96 L63.83,63.57 L64.10,64.17 L64.37,64.78 L64.64,65.38 L64.91,65.99 L65.19,66.59 L65.46,67.19 L65.74,67.80 L66.02,68.40 L66.30,69.00 L66.58,69.60 L66.87,70.20 L67.15,70.80 L67.44,71.40 L67.73,71.99 L68.02,72.59 L68.31,73.19 L68.61,73.78 L68.90,74.38 L69.20,74.97 L69.50,75.57 L69.80,76.16 L70.10,76.75 L70.41,77.35 L70.71,77.94 L71.02,78.53 L71.33,79.12 L71.64,79.70 L71.95,80.29 L72.27,80.88 L72.58,81.46 L72.90,82.05 L73.22,82.63 L73.54,83.21 L73.87,83.80 L74.19,84.38 L74.52,84.96 L74.85,85.54 L75.18,86.11 L75.51,86.69 L75.84,87.27 L76.18,87.84 L76.52,88.42 L76.86,88.99 L77.20,89.56 L77.54,90.13 L77.89,90.70 L78.23,91.27 L78.58,91.83 L78.93,92.40 L79.28,92.96 L79.64,93.53 L79.99,94.09 L80.35,94.65 L80.71,95.21 L81.07,95.76 L81.43,96.32 L81.80,96.88 L82.17,97.43 L82.54,97.98 L82.91,98.53 L83.28,99.08 L83.65,99.63 L84.03,100.18 L84.41,100.72 L84.79,101.27 L85.17,101.81 L85.56,102.35 L85.94,102.89 L86.33,103.43 L86.72,103.97 L87.11,104.50 L87.51,105.03 L87.90,105.57 L88.30,106.10 L88.70,106.62 L89.10,107.15 L89.50,107.68 L89.91,108.20 L90.31,108.72 L90.72,109.24 L91.13,109.76 L91.54,110.28 L91.96,110.80 L92.37,111.31 L92.79,111.82 L93.21,112.34 L93.63,112.84 L94.06,113.35 L94.48,113.86 L94.91,114.36 L95.34,114.87 L95.77,115.37 L96.20,115.87 L96.63,116.36 L97.07,116.86 L97.51,117.35 L97.95,117.85 L98.39,118.34 L98.83,118.83 L99.28,119.31 L99.72,119.80 L100.17,120.28 L100.62,120.76 L101.07,121.24 L101.53,121.72 L101.98,122.20 L102.44,122.67 L102.90,123.14 L103.36,123.61 L103.82,124.08 L104.28,124.55 L104.75,125.01 L105.22,125.48 L105.68,125.94 L106.16,126.40 L106.63,126.86 L107.10,127.31 L107.58,127.76 L108.06,128.22 L108.53,128.67 L109.02,129.11 L109.50,129.56 L109.98,130.00 L110.47,130.44 L110.96,130.88 L111.45,131.32 L111.94,131.76 L112.43,132.19 L112.92,132.62 L113.42,133.05 L113.92,133.48 L114.42,133.91 L114.92,134.33 L115.42,134.75 L115.92,135.17 L116.43,135.59 L116.94,136.00 L117.45,136.41 L117.96,136.83 L118.47,137.23 L118.98,137.64 L119.50,138.05 L120.02,138.45 L120.53,138.85 L121.05,139.25 L121.57,139.65 L122.10,140.04 L122.62,140.44 L123.15,140.83 L123.67,141.22 L124.20,141.60 L124.73,141.99 L125.27,142.37 L125.80,142.75 L126.33,143.13 L126.87,143.51 L127.41,143.89 L127.94,144.26 L128.48,144.63 L129.03,145.01 L129.57,145.37 L130.11,145.74 L130.66,146.11 L131.20,146.47 L131.75,146.83 L132.30,147.19 L132.85,147.55 L133.40,147.91 L133.96,148.26 L134.51,148.61 L135.07,148.97 L135.62,149.31 L136.18,149.66 L136.74,150.01 L137.30,150.35 L137.86,150.70 L138.42,151.04 L138.99,151.38 L139.55,151.72 L140.12,152.05 L140.69,152.39 L141.25,152.72 L141.82,153.05 L142.39,153.38 L142.97,153.71 L143.54,154.04 L144.11,154.36 L144.69,154.69 L145.26,155.01 L145.84,155.33 L146.42,155.65 L147.00,155.97 L147.58,156.28 L148.16,156.60 L148.74,156.91 L149.32,157.22 L149.90,157.53 L150.49,157.84 L151.07,158.15 L151.66,158.46 L152.25,158.76 L152.84,159.07 L153.43,159.37 L154.02,159.67 L154.61,159.97 L155.20,160.27 L155.79,160.56 L156.38,160.86 L156.98,161.15 L157.57,161.45 L158.17,161.74 L158.77,162.03 L159.36,162.32 L159.96,162.61 L160.56,162.89 L161.16,163.18 L161.76,163.46 L162.36,163.75 L162.96,164.03 L163.56,164.31 L164.17,164.59 L164.77,164.87 L165.38,165.14 L165.98,165.42 L166.59,165.69 L167.19,165.97 L167.80,166.24 L168.41,166.51 L169.02,166.78 L169.62,167.05 L170.23,167.32 L170.84,167.59 L171.45,167.85 L172.06,168.12 L172.68,168.38 L173.29,168.64 L173.90,168.90 L174.51,169.17 L175.13,169.43 L175.74,169.68 L176.36,169.94 L176.97,170.20 L177.59,170.45 L178.20,170.71 L178.82,170.96 L179.43,171.22 L180.05,171.47 L180.67,171.72 L181.29,171.97 L181.90,172.22 L182.52,172.47 L183.14,172.72 L183.76,172.96 L184.38,173.21 L185.00,173.46 L185.62,173.70 L186.24,173.94 L186.86,174.19 L187.48,174.43 L188.10,174.67 L188.72,174.91 L189.34,175.15 L189.97,175.39 L190.59,175.63 L191.21,175.87 L191.83,176.10 L192.46,176.34 L193.08,176.57 L193.70,176.81 L194.32,177.04 L194.95,177.28 L195.57,177.51 L196.19,177.74 L196.82,177.97 L197.44,178.20 L198.06,178.43 L198.69,178.66 L199.31,178.89 L199.94,179.12 L200.56,179.35 L201.19,179.57 L201.81,179.80 L202.43,180.03 L203.06,180.25 L203.68,180.47 L204.31,180.70 L204.93,180.92 L205.56,181.14 L206.19,181.36 L206.81,181.58 L207.44,181.80 L208.06,182.02 L208.69,182.24 L209.32,182.46 L209.94,182.67 L210.57,182.89 L211.20,183.10 L211.82,183.32 L212.45,183.53 L213.08,183.75 L213.70,183.96 L214.33,184.17 L214.96,184.38 L215.59,184.59 L216.22,184.80 L216.84,185.01 L217.47,185.22 L218.10,185.42 L218.73,185.63 L219.36,185.83 L219.99,186.04 L220.62,186.24 L221.25,186.45 L221.88,186.65 L222.51,186.85 L223.14,187.05 L223.77,187.25 L224.40,187.45 L225.03,187.65 L225.66,187.84 L226.29,188.04 L226.92,188.24 L227.55,188.43 L228.18,188.62 L228.81,188.82 L229.45,189.01 L230.08,189.20 L230.71,189.39 L231.34,189.58 L231.97,189.77 L232.61,189.96 L233.24,190.15 L233.87,190.33 L234.51,190.52 L235.14,190.70 L235.77,190.89 L236.41,191.07 L237.04,191.25 L237.68,191.43 L238.31,191.61 L238.95,191.79 L239.58,191.97 L240.22,192.15 L240.85,192.32 L241.49,192.50 L242.12,192.67 L242.76,192.85 L243.40,193.02 L244.03,193.19 L244.67,193.36 L245.31,193.53 L245.94,193.70 L246.58,193.87 L247.22,194.04 L247.86,194.21 L248.49,194.37 L249.13,194.54 L249.77,194.70 L250.41,194.86 L251.05,195.02 L251.69,195.19 L252.33,195.35 L252.97,195.50 L253.61,195.66 L254.25,195.82 L254.89,195.97 L255.53,196.13 L256.17,196.28 L256.81,196.44 L257.45,196.59 L258.09,196.74 L258.73,196.89 L259.37,197.04 L260.02,197.19 L260.66,197.33 L261.30,197.48 L261.95,197.63 L262.59,197.77 L263.23,197.91 L263.88,198.06 L264.52,198.20 L265.16,198.34 L265.81,198.48 L266.45,198.61 L267.10,198.75 L267.74,198.89 L268.39,199.02 L269.03,199.16 L269.68,199.29 L270.33,199.42 L270.97,199.55 L271.62,199.68 L272.27,199.81 L272.92,199.94 L273.56,200.06 L274.21,200.19 L274.86,200.31 L275.51,200.44 L276.16,200.56 L276.81,200.68 L277.45,200.80 L278.10,200.92 L278.75,201.03 L279.40,201.15 L280.05,201.27 L280.71,201.38 L281.36,201.49 L282.01,201.61 L282.66,201.72 L283.31,201.83 L283.96,201.94 L284.62,202.04 L285.27,202.15 L285.92,202.26 L286.57,202.36 L287.23,202.46 L287.88,202.57 L288.54,202.67 L289.19,202.77 L289.85,202.87 L290.50,202.96 L291.16,203.06 L291.81,203.15 L292.47,203.25 L293.12,203.34 L293.78,203.43 L294.44,203.52 L295.09,203.61 L295.75,203.70 L296.41,203.79 L297.06,203.87 L297.72,203.95 L298.38,204.04 L299.04,204.12 L299.70,204.20 L300.36,204.28 L301.01,204.35 L301.67,204.43 L302.33,204.51 L302.99,204.58 L303.65,204.65 L304.31,204.72 L304.97,204.79 L305.63,204.86 L306.29,204.93 L306.95,204.99 L307.61,205.05 L308.27,205.12 L308.93,205.18 L309.59,205.24 L310.25,205.30 L310.92,205.35 L311.58,205.41 L312.24,205.46 L312.90,205.51 L313.56,205.56 L314.22,205.61 L314.88,205.66 L315.55,205.71 L316.21,205.75 L316.87,205.79 L317.53,205.84 L318.19,205.88 L318.86,205.91 L319.52,205.95 L320.18,205.99 L320.84,206.02 L321.50,206.05 L322.17,206.08 L322.83,206.11 L323.49,206.14 L324.15,206.17 L324.82,206.19 L325.48,206.21 L326.14,206.23 L326.80,206.25 L327.47,206.27 L328.13,206.28 L328.79,206.30 L329.45,206.31 L330.12,206.32 L330.78,206.33 L331.44,206.34 L332.10,206.34 L332.77,206.35 L333.43,206.35 L334.09,206.35 L334.75,206.35 L335.41,206.34 L336.08,206.34 L336.74,206.33 L337.40,206.32 L338.06,206.31 L338.72,206.30 L339.38,206.29 L340.05,206.27 L340.71,206.25 L341.37,206.23 L342.03,206.21 L342.69,206.19 L343.35,206.16 L344.01,206.14 L344.67,206.11 L345.33,206.08 L345.99,206.04 L346.65,206.01 L347.31,205.97 L347.97,205.93 L348.63,205.89 L349.29,205.85 L349.95,205.81 L350.61,205.76 L351.27,205.71 L351.93,205.66 L352.59,205.61 L353.25,205.55 L353.91,205.50 L354.56,205.44 L355.22,205.38 L355.88,205.31 L356.54,205.25 L357.19,205.18 L357.85,205.11 L358.51,205.04 L359.16,204.97 L359.82,204.89 L360.48,204.82 L361.13,204.74 L361.79,204.66 L362.44,204.57 L363.10,204.49 L363.75,204.40 L364.41,204.31 L365.06,204.22 L365.71,204.12 L366.37,204.02 L367.02,203.92 L367.67,203.82 L368.32,203.72 L368.98,203.61 L369.63,203.51 L370.28,203.40 L370.93,203.28 L371.58,203.17 L372.23,203.05 L372.88,202.93 L373.53,202.81 L374.18,202.69 L374.83,202.56 L375.48,202.43 L376.13,202.30 L376.78,202.17 L377.42,202.04 L378.07,201.90 L378.72,201.76 L379.36,201.62 L380.01,201.47 L380.66,201.32 L381.30,201.17 L381.95,201.02 L382.59,200.87 L383.23,200.71 L383.88,200.55 L384.52,200.39 L385.16,200.23 L385.81,200.06 L386.45,199.89 L387.09,199.72 L387.73,199.54 L388.37,199.37 L389.01,199.19 L389.65,199.01 L390.29,198.82 L390.93,198.64 L391.56,198.45 L392.20,198.26 L392.84,198.06 L393.48,197.86 L394.11,197.67 L394.75,197.46 L395.38,197.26 L396.02,197.05 L396.65,196.84 L397.28,196.63 L397.92,196.41 L398.55,196.20 L399.18,195.98 L399.81,195.75 L400.44,195.53 L401.07,195.30 L401.70,195.07" stroke="#bf00ff" stroke-width="4.5" stroke-dasharray="18.84 3.91 8.22 4.11"/>
</g>
<!-- axes -->
<line x1="55" y1="231.05" x2="407" y2="231.05" stroke="#000" stroke-width="1.3"/>
<line x1="62.2" y1="42" x2="62.2" y2="231.65" stroke="#000" stroke-width="1.6"/>
<line x1="72.6" y1="231.05" x2="72.6" y2="229.25" stroke="#000" stroke-width="1.3"/><line x1="83.4" y1="231.05" x2="83.4" y2="229.25" stroke="#000" stroke-width="1.3"/><line x1="94.2" y1="231.05" x2="94.2" y2="229.25" stroke="#000" stroke-width="1.3"/><line x1="105.1" y1="231.05" x2="105.1" y2="229.25" stroke="#000" stroke-width="1.3"/><line x1="115.9" y1="231.05" x2="115.9" y2="227.95000000000002" stroke="#000" stroke-width="1.6"/><line x1="126.7" y1="231.05" x2="126.7" y2="229.25" stroke="#000" stroke-width="1.3"/><line x1="137.6" y1="231.05" x2="137.6" y2="229.25" stroke="#000" stroke-width="1.3"/><line x1="148.4" y1="231.05" x2="148.4" y2="229.25" stroke="#000" stroke-width="1.3"/><line x1="159.2" y1="231.05" x2="159.2" y2="229.25" stroke="#000" stroke-width="1.3"/><line x1="170.1" y1="231.05" x2="170.1" y2="227.95000000000002" stroke="#000" stroke-width="1.6"/><line x1="180.9" y1="231.05" x2="180.9" y2="229.25" stroke="#000" stroke-width="1.3"/><line x1="191.7" y1="231.05" x2="191.7" y2="229.25" stroke="#000" stroke-width="1.3"/><line x1="202.6" y1="231.05" x2="202.6" y2="229.25" stroke="#000" stroke-width="1.3"/><line x1="213.4" y1="231.05" x2="213.4" y2="229.25" stroke="#000" stroke-width="1.3"/><line x1="224.2" y1="231.05" x2="224.2" y2="227.95000000000002" stroke="#000" stroke-width="1.6"/><line x1="235.1" y1="231.05" x2="235.1" y2="229.25" stroke="#000" stroke-width="1.3"/><line x1="245.9" y1="231.05" x2="245.9" y2="229.25" stroke="#000" stroke-width="1.3"/><line x1="256.7" y1="231.05" x2="256.7" y2="229.25" stroke="#000" stroke-width="1.3"/><line x1="267.6" y1="231.05" x2="267.6" y2="229.25" stroke="#000" stroke-width="1.3"/><line x1="278.4" y1="231.05" x2="278.4" y2="227.95000000000002" stroke="#000" stroke-width="1.6"/><line x1="289.2" y1="231.05" x2="289.2" y2="229.25" stroke="#000" stroke-width="1.3"/><line x1="300.1" y1="231.05" x2="300.1" y2="229.25" stroke="#000" stroke-width="1.3"/><line x1="310.9" y1="231.05" x2="310.9" y2="229.25" stroke="#000" stroke-width="1.3"/><line x1="321.7" y1="231.05" x2="321.7" y2="229.25" stroke="#000" stroke-width="1.3"/><line x1="332.5" y1="231.05" x2="332.5" y2="227.95000000000002" stroke="#000" stroke-width="1.6"/><line x1="343.4" y1="231.05" x2="343.4" y2="229.25" stroke="#000" stroke-width="1.3"/><line x1="354.2" y1="231.05" x2="354.2" y2="229.25" stroke="#000" stroke-width="1.3"/><line x1="365.0" y1="231.05" x2="365.0" y2="229.25" stroke="#000" stroke-width="1.3"/><line x1="375.9" y1="231.05" x2="375.9" y2="229.25" stroke="#000" stroke-width="1.3"/><line x1="386.7" y1="231.05" x2="386.7" y2="227.95000000000002" stroke="#000" stroke-width="1.6"/><line x1="397.5" y1="231.05" x2="397.5" y2="229.25" stroke="#000" stroke-width="1.3"/>
<line x1="62.2" y1="219.3" x2="63.6" y2="219.3" stroke="#000" stroke-width="0.5"/><line x1="62.2" y1="212.2" x2="63.6" y2="212.2" stroke="#000" stroke-width="0.5"/><line x1="62.2" y1="207.2" x2="63.6" y2="207.2" stroke="#000" stroke-width="0.5"/><line x1="62.2" y1="203.3" x2="63.6" y2="203.3" stroke="#000" stroke-width="0.5"/><line x1="62.2" y1="200.1" x2="63.6" y2="200.1" stroke="#000" stroke-width="0.5"/><line x1="62.2" y1="197.4" x2="63.6" y2="197.4" stroke="#000" stroke-width="0.5"/><line x1="62.2" y1="195.1" x2="63.6" y2="195.1" stroke="#000" stroke-width="0.5"/><line x1="62.2" y1="193.0" x2="63.6" y2="193.0" stroke="#000" stroke-width="0.5"/><line x1="62.2" y1="191.2" x2="65.60000000000001" y2="191.2" stroke="#000" stroke-width="1.3"/><line x1="62.2" y1="179.0" x2="63.6" y2="179.0" stroke="#000" stroke-width="0.5"/><line x1="62.2" y1="171.9" x2="63.6" y2="171.9" stroke="#000" stroke-width="0.5"/><line x1="62.2" y1="166.9" x2="63.6" y2="166.9" stroke="#000" stroke-width="0.5"/><line x1="62.2" y1="163.0" x2="63.6" y2="163.0" stroke="#000" stroke-width="0.5"/><line x1="62.2" y1="159.8" x2="63.6" y2="159.8" stroke="#000" stroke-width="0.5"/><line x1="62.2" y1="157.1" x2="63.6" y2="157.1" stroke="#000" stroke-width="0.5"/><line x1="62.2" y1="154.8" x2="63.6" y2="154.8" stroke="#000" stroke-width="0.5"/><line x1="62.2" y1="152.7" x2="63.6" y2="152.7" stroke="#000" stroke-width="0.5"/><line x1="62.2" y1="150.9" x2="65.60000000000001" y2="150.9" stroke="#000" stroke-width="1.3"/><line x1="62.2" y1="138.8" x2="63.6" y2="138.8" stroke="#000" stroke-width="0.5"/><line x1="62.2" y1="131.7" x2="63.6" y2="131.7" stroke="#000" stroke-width="0.5"/><line x1="62.2" y1="126.7" x2="63.6" y2="126.7" stroke="#000" stroke-width="0.5"/><line x1="62.2" y1="122.8" x2="63.6" y2="122.8" stroke="#000" stroke-width="0.5"/><line x1="62.2" y1="119.6" x2="63.6" y2="119.6" stroke="#000" stroke-width="0.5"/><line x1="62.2" y1="116.9" x2="63.6" y2="116.9" stroke="#000" stroke-width="0.5"/><line x1="62.2" y1="114.6" x2="63.6" y2="114.6" stroke="#000" stroke-width="0.5"/><line x1="62.2" y1="112.5" x2="63.6" y2="112.5" stroke="#000" stroke-width="0.5"/><line x1="62.2" y1="110.7" x2="65.60000000000001" y2="110.7" stroke="#000" stroke-width="1.3"/><line x1="62.2" y1="98.5" x2="63.6" y2="98.5" stroke="#000" stroke-width="0.5"/><line x1="62.2" y1="91.4" x2="63.6" y2="91.4" stroke="#000" stroke-width="0.5"/><line x1="62.2" y1="86.4" x2="63.6" y2="86.4" stroke="#000" stroke-width="0.5"/><line x1="62.2" y1="82.5" x2="63.6" y2="82.5" stroke="#000" stroke-width="0.5"/><line x1="62.2" y1="79.3" x2="63.6" y2="79.3" stroke="#000" stroke-width="0.5"/><line x1="62.2" y1="76.6" x2="63.6" y2="76.6" stroke="#000" stroke-width="0.5"/><line x1="62.2" y1="74.3" x2="63.6" y2="74.3" stroke="#000" stroke-width="0.5"/><line x1="62.2" y1="72.2" x2="63.6" y2="72.2" stroke="#000" stroke-width="0.5"/><line x1="62.2" y1="70.4" x2="65.60000000000001" y2="70.4" stroke="#000" stroke-width="1.3"/><line x1="62.2" y1="58.3" x2="63.6" y2="58.3" stroke="#000" stroke-width="0.5"/><line x1="62.2" y1="51.2" x2="63.6" y2="51.2" stroke="#000" stroke-width="0.5"/><line x1="62.2" y1="46.2" x2="63.6" y2="46.2" stroke="#000" stroke-width="0.5"/>
<text x="116.1" y="245.8" text-anchor="middle" class="tk">1</text><text x="170.3" y="245.8" text-anchor="middle" class="tk">2</text><text x="224.4" y="245.8" text-anchor="middle" class="tk">3</text><text x="278.6" y="245.8" text-anchor="middle" class="tk">4</text><text x="332.7" y="245.8" text-anchor="middle" class="tk">5</text><text x="386.9" y="245.8" text-anchor="middle" class="tk">6</text>
<text x="55" y="75.3" class="tk" text-anchor="end">10</text><text x="55.3" y="70.7" class="tk" style="font-size:9px">7</text><text x="55" y="115.6" class="tk" text-anchor="end">10</text><text x="55.3" y="111.0" class="tk" style="font-size:9px">6</text><text x="55" y="155.8" class="tk" text-anchor="end">10</text><text x="55.3" y="151.2" class="tk" style="font-size:9px">5</text><text x="55" y="196.1" class="tk" text-anchor="end">10</text><text x="55.3" y="191.5" class="tk" style="font-size:9px">4</text>
<!-- legend lines -->
<g fill="none">
<line x1="169" y1="70.5" x2="209.5" y2="70.5" stroke="#000" stroke-width="2" stroke-dasharray="9.5 4.5"/>
<line x1="169" y1="90.5" x2="209.5" y2="90.5" stroke="#000" stroke-width="2"/>
<line x1="168" y1="110.6" x2="210" y2="110.6" stroke="#f00" stroke-width="4.4" stroke-dasharray="11.5 2.5"/>
<line x1="168" y1="130.7" x2="210" y2="130.7" stroke="#f00" stroke-width="4.4"/>
<line x1="168" y1="150.7" x2="210.3" y2="150.7" stroke="#bf00ff" stroke-width="4.5" stroke-dasharray="18.5 4.5 8 4"/>
</g>
<!-- legend text -->
<g class="lg" text-anchor="middle">
<text x="305" y="75.4"><tspan class="i">α</tspan>(2<tspan class="i">π</tspan>T), <tspan class="i">μ</tspan><tspan dy="-6" class="s">2</tspan><tspan dy="6">= </tspan><tspan class="i">m</tspan><tspan dy="-6" class="s">2</tspan><tspan dy="10" dx="-5.5" class="i s">D</tspan><tspan dy="-4">(T)</tspan></text>
<text x="305" y="95.3"><tspan class="i">α</tspan>(2<tspan class="i">π</tspan>T), <tspan class="i">μ</tspan><tspan dy="-6" class="s">2</tspan><tspan dy="6">=0.15</tspan><tspan class="i">m</tspan><tspan dy="-6" class="s">2</tspan><tspan dy="10" dx="-5.5" class="i s">D</tspan><tspan dy="-4">(T)</tspan></text>
<text x="305" y="116.2"><tspan class="i">α</tspan><tspan dy="3" class="s">eff</tspan><tspan dy="-3">(t), </tspan><tspan class="i">μ</tspan><tspan dy="-6" class="s">2</tspan><tspan dy="6">= </tspan><tspan class="i">m̃</tspan><tspan dy="-6" class="s">2</tspan><tspan dy="10" dx="-5.5" class="i s">D</tspan><tspan dy="-4">(T)</tspan></text>
<text x="305" y="136"><tspan class="i">α</tspan><tspan dy="3" class="s">eff</tspan><tspan dy="-3">(t), </tspan><tspan class="i">μ</tspan><tspan dy="-6" class="s">2</tspan><tspan dy="6">=0.2</tspan><tspan class="i">m̃</tspan><tspan dy="-6" class="s">2</tspan><tspan dy="10" dx="-5.5" class="i s">D</tspan><tspan dy="-4">(T)</tspan></text>
<text x="305.8" y="155.8"><tspan class="i">α</tspan><tspan dy="3" class="s">eff</tspan><tspan dy="-3">(t) &amp;</tspan></text>
<text x="306.3" y="176"><tspan class="i">μ</tspan><tspan dy="-6" class="s">2</tspan><tspan dy="6">(t)=0.11(6</tspan><tspan class="i">π</tspan> <tspan class="i">α</tspan><tspan dy="3" class="s">eff</tspan><tspan dy="-3">(t)</tspan><tspan class="i">T</tspan><tspan dy="-6" class="s">2</tspan><tspan dy="6">)</tspan></text>
</g>
<!-- annotations -->
<text x="82" y="196" class="b" style="font-size:15px"><tspan class="i">E</tspan><tspan dy="3" class="i" style="font-size:10px">c</tspan><tspan dy="-3" dx="0.9">=10GeV</tspan></text>
<text x="82.5" y="216.4" class="b" style="font-size:15px">T=0.4GeV</text>
<ellipse cx="62.4" cy="259.4" rx="1.3" ry="0.6" fill="#aaa"/>
<!-- axis label -->
<text x="194.3" y="258" class="b" style="font-size:15px">|t|<tspan dx="0.6"> (GeV</tspan><tspan dy="-6" style="font-size:10.5px">2</tspan><tspan dy="6">)</tspan></text>
<!-- y title -->
<text x="2.3" y="9.3" class="b" style="font-size:15px">d</text>
<text transform="translate(10.6,9.3) scale(1.28,1.06)" x="0" y="0" class="b i" style="font-size:15px">σ</text>
<text x="21" y="12" class="b" style="font-size:10.5px">cg</text>
<path d="M31.4,9.4 H39" stroke="#000" stroke-width="1.2" fill="none"/>
<path d="M36,6.9 Q37.2,9 39.6,9.4 Q37.2,9.8 36,11.9" stroke="#000" stroke-width="1.1" fill="none"/>
<text x="40.5" y="12" class="b" style="font-size:10.5px">cg</text>
<line x1="2.5" y1="19.5" x2="50.3" y2="19.5" stroke="#000" stroke-width="1"/>
<text x="20" y="35.3" class="b" style="font-size:15px">dt</text>
<text x="52.7" y="24.6" class="b" style="font-size:15px">(arb. units)</text>
</svg>
</body></html>
